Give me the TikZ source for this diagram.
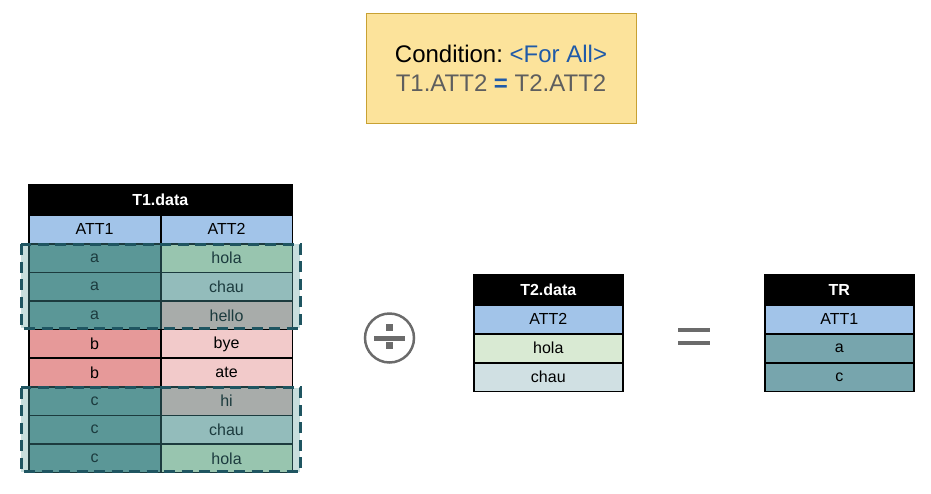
\documentclass[tikz,border=0pt]{standalone}
\usepackage{fontspec}
\setmainfont{Liberation Sans}
\usetikzlibrary{positioning}
\frenchspacing

\definecolor{hdrblue}{HTML}{A2C4E9}
\definecolor{aTeal}{HTML}{5B9797}
\definecolor{holaGreen}{HTML}{98C5AF}
\definecolor{chauCyan}{HTML}{93BCBB}
\definecolor{helloGray}{HTML}{A8ACAA}
\definecolor{bRed}{HTML}{E69999}
\definecolor{byePink}{HTML}{F2CACA}
\definecolor{tholaGreen}{HTML}{D9EAD3}
\definecolor{tchauCyan}{HTML}{D0E0E3}
\definecolor{resTeal}{HTML}{77A5AD}
\definecolor{grpLight}{HTML}{C8DEDD}
\definecolor{grpLine}{HTML}{1F5561}
\definecolor{cellDark}{HTML}{1C3B3E}
\definecolor{condFill}{HTML}{FCE39B}
\definecolor{condLine}{HTML}{C8A133}
\definecolor{condBlue}{HTML}{1F5AA8}
\definecolor{condGray}{HTML}{5E5E5E}
\definecolor{opGray}{HTML}{6B6B6B}

\begin{document}
\begin{tikzpicture}[
    x=1pt, y=-1pt,
    cell/.style={draw, line width=1.6pt, minimum height=28.6pt, inner sep=0pt,
        anchor=north west, font=\fontsize{16}{18}\selectfont},
    t1cell/.style={cell, minimum width=131.5pt},
    t2cell/.style={cell, minimum width=149pt},
    title/.style={fill=black, text=white, minimum height=30pt,
        font=\bfseries\fontsize{16}{18}\selectfont},
    grouped/.style={draw=cellDark, text=cellDark},
    grpback/.style={fill=grpLight, inner sep=0pt, anchor=north west,
        minimum width=279pt, minimum height=84pt},
    grpedge/.style={draw=grpLine, line width=3pt, dash pattern=on 11pt off 6.5pt},
    opline/.style={draw=opGray, line width=2.5pt}
]
\useasboundingbox (0,0) rectangle (931,493);

% --- Condition box ---
\node[draw=condLine, fill=condFill, line width=1pt, minimum width=270pt,
      minimum height=110pt, align=center, font=\fontsize{24}{29}\selectfont]
      (cond) at (501,68)
      {Condition: \textcolor{condBlue}{<For All>}\\
       \textcolor{condGray}{T1.ATT2} \textcolor{condBlue}{\textbf{=}} \textcolor{condGray}{T2.ATT2}};

% --- Group backgrounds ---
\node[grpback] (grpA) at (21,244) {};
\node[grpback] (grpC) at (21,387.5) {};

% --- T1.data ---
\node[t1cell, title, minimum width=263pt] (t1head) at (28,184) {T1.data};
\node[t1cell, fill=hdrblue] (t1att1) at (28,214) {ATT1};
\node[t1cell, fill=hdrblue] (t1att2) at (160,214) {ATT2};

\foreach \i/\l/\r/\lc/\rc/\g in {
    1/a/hola/aTeal/holaGreen/grouped,
    2/a/chau/aTeal/chauCyan/grouped,
    3/a/hello/aTeal/helloGray/grouped,
    4/b/bye/bRed/byePink/,
    5/b/ate/bRed/byePink/,
    6/c/hi/aTeal/helloGray/grouped,
    7/c/chau/aTeal/chauCyan/grouped,
    8/c/hola/aTeal/holaGreen/grouped}
{
    \node[t1cell, fill=\lc, \g] (t1l\i) at (28,{243 + (\i-1)*28.6}) {\l};
    \node[t1cell, fill=\rc, \g] (t1r\i) at (160,{243 + (\i-1)*28.6}) {\r};
}

% --- Group outlines ---
\draw[grpedge] (grpA.north west) rectangle (grpA.south east);
\draw[grpedge] (grpC.north west) rectangle (grpC.south east);

% --- Division sign ---
\node[circle, opline, minimum size=49pt, inner sep=0pt] (divop) at (389.5,338) {};
\fill[opGray] ([shift={(-15.5,-2.5)}]divop.center) rectangle ([shift={(15.5,2.5)}]divop.center);
\fill[opGray] ([shift={(-3.5,-14)}]divop.center) rectangle ([shift={(3.5,-7.5)}]divop.center);
\fill[opGray] ([shift={(-3.5,4)}]divop.center) rectangle ([shift={(3.5,10.5)}]divop.center);

% --- T2.data ---
\node[t2cell, title] (t2head) at (473,274) {T2.data};
\node[t2cell, fill=hdrblue] (t2att) at (473,304) {ATT2};
\node[t2cell, fill=tholaGreen] (t2r1) at (473,333) {hola};
\node[t2cell, fill=tchauCyan] (t2r2) at (473,362) {chau};

% --- Equals sign ---
\coordinate (eqop) at (694,336.5);
\fill[opGray] ([shift={(-16,-8.5)}]eqop) rectangle ([shift={(16,-4.5)}]eqop);
\fill[opGray] ([shift={(-16,4.5)}]eqop) rectangle ([shift={(16,8.5)}]eqop);

% --- TR ---
\node[t2cell, title] (trhead) at (764,274) {TR};
\node[t2cell, fill=hdrblue] (tratt) at (764,304) {ATT1};
\node[t2cell, fill=resTeal] (trr1) at (764,333) {a};
\node[t2cell, fill=resTeal] (trr2) at (764,362) {c};

\end{tikzpicture}
\end{document}
